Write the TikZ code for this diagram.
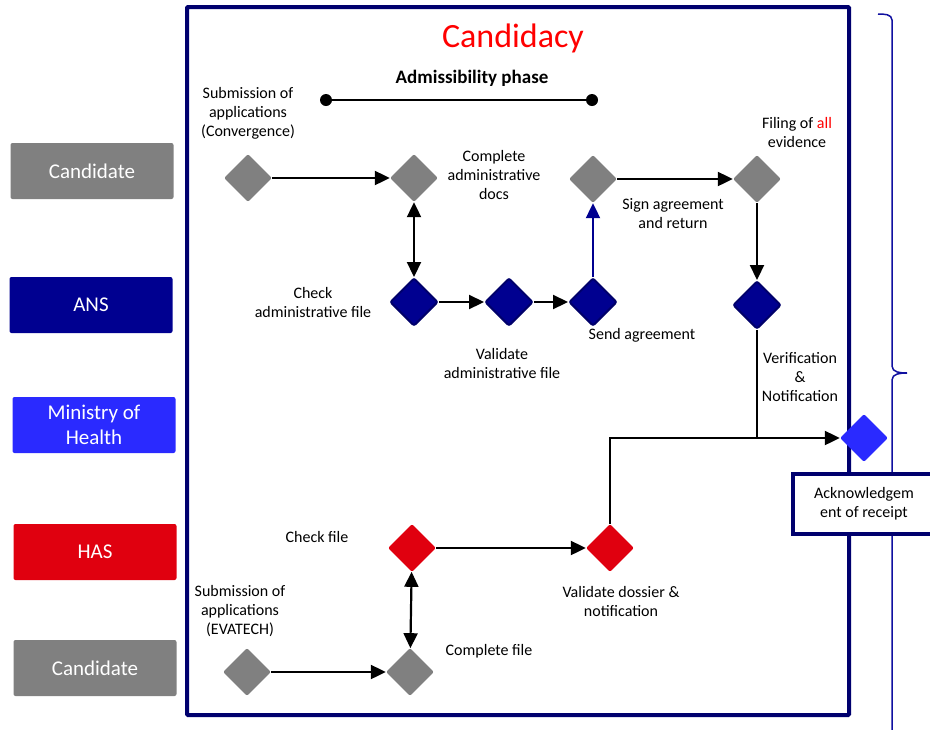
\documentclass[tikz,border=0pt]{standalone}
\usepackage{fontspec}
\setmainfont{Carlito}
\usetikzlibrary{arrows.meta, shapes.geometric, positioning}
\definecolor{candgray}{HTML}{808080}
\definecolor{ansblue}{HTML}{000090}
\definecolor{ansedge}{HTML}{00006A}
\definecolor{minblue}{HTML}{2A2AFF}
\definecolor{hasred}{HTML}{E0000F}
\definecolor{framenavy}{HTML}{00006E}
\definecolor{bracenavy}{HTML}{1010A0}
\tikzset{
	lanebox/.style={rectangle, rounded corners=2pt, minimum width=163pt, minimum height=56pt,
		inner sep=0pt, text=white, align=center, font=\fontsize{21}{25}\selectfont},
	dia/.style={diamond, minimum width=48pt, minimum height=48pt, inner sep=0pt, rounded corners=2pt},
	canddia/.style={dia, fill=candgray},
	ansdia/.style={dia, fill=ansblue, draw=ansedge, line width=2pt},
	mindia/.style={dia, fill=minblue},
	hasdia/.style={dia, fill=hasred},
	lbl/.style={align=center, inner sep=0pt, font=\fontsize{16}{19}\selectfont},
	flow/.style={line width=2.2pt, -{Triangle[length=15pt,width=14pt]}},
	twoway/.style={line width=2.2pt, {Triangle[length=15pt,width=14pt]}-{Triangle[length=15pt,width=14pt]}}
}
\begin{document}
\begin{tikzpicture}[x=1pt, y=-1pt]
	\useasboundingbox (0,0) rectangle (930,729);
	% lanes
	\node[lanebox, fill=candgray] (candtop) at (92,171) {Candidate};
	\node[lanebox, fill=ansblue] (ans) at (91,305) {ANS};
	\node[lanebox, fill=minblue] (ministry) at (94,425) {Ministry of\\Health};
	\node[lanebox, fill=hasred] (has) at (95,552) {HAS};
	\node[lanebox, fill=candgray] (candbot) at (95,668) {Candidate};

	% frame and brace
	\draw[framenavy, line width=4pt, rounded corners=1pt] (187,7) rectangle (849,715);
	\draw[bracenavy, line width=1.5pt] (878,14) to[out=0, in=90] (892,20) -- (892,366)
		to[out=-90, in=180] (907,373) to[out=180, in=90] (892,380) -- (892,735);

	% header
	\node[text=red, inner sep=0pt, font=\fontsize{34}{36}\selectfont] (title) at (513,38) {Candidacy};
	\node[inner sep=0pt, font=\fontsize{19}{22}\selectfont\bfseries] (phase) at (472,78) {Admissibility phase};
	\node[circle, fill=black, inner sep=0pt, minimum size=12pt] (phasestart) at (326,100) {};
	\node[circle, fill=black, inner sep=0pt, minimum size=12pt] (phaseend) at (592,100) {};
	\draw[line width=2pt] (phasestart) -- (phaseend);

	% convergence track
	\node[canddia] (subconv) at (248,178) {};
	\node[canddia] (compdocs) at (414,178) {};
	\node[canddia] (signagr) at (593,179) {};
	\node[canddia] (filing) at (757,179) {};
	\node[ansdia] (checkadm) at (414,302) {};
	\node[ansdia] (validadm) at (509,302) {};
	\node[ansdia] (sendagr) at (593,302) {};
	\node[ansdia] (verif) at (757,305) {};
	\node[mindia] (ackdia) at (864,438) {};

	% evatech track
	\node[hasdia] (checkfile) at (412,548) {};
	\node[hasdia] (validdos) at (610,548) {};
	\node[canddia] (subeva) at (247,672) {};
	\node[canddia] (compfile) at (410,672) {};

	% labels
	\node[lbl] (subconvlbl) at (248,113) {Submission of\\applications\\(Convergence)};
	\node[lbl] (compdocslbl) at (494,175) {Complete\\administrative\\docs};
	\node[lbl] (filinglbl) at (797,132) {Filing of {\color{red}all}\\evidence};
	\node[lbl] (signlbl) at (673,214) {Sign agreement\\and return};
	\node[lbl] (checkadmlbl) at (313,302) {Check\\administrative file};
	\node[lbl] (validadmlbl) at (502,363) {Validate\\administrative file};
	\node[lbl] (sendlbl) at (642,335) {Send agreement};
	\node[lbl] (veriflbl) at (800,377) {Verification\\\&\\Notification};
	\node[lbl] (checkfilelbl) at (317,537) {Check file};
	\node[lbl] (validdoslbl) at (621,601) {Validate dossier \&\\notification};
	\node[lbl] (subevalbl) at (240,611) {Submission of\\applications\\(EVATECH)};
	\node[lbl] (compfilelbl) at (489,651) {Complete file};

	% connectors
	\draw[flow]
	(subconv) edge (compdocs)
	(checkadm) edge (validadm)
	(validadm) edge (sendagr)
	(signagr) edge (filing)
	(filing) edge (verif)
	(checkfile) edge (validdos)
	(subeva) edge (compfile)
	;
	\draw[twoway] (compdocs) -- (checkadm);
	\draw[twoway] (compfile) -- (checkfile);
	\draw[flow, ansblue] (sendagr) -- (signagr);
	\draw[flow] (validdos) |- (ackdia);
	\draw[line width=2.2pt] (verif) -- (verif |- ackdia);

	% acknowledgement box
	\node[rectangle, fill=white, draw=framenavy, line width=3.5pt, minimum width=142pt, minimum height=60pt,
		align=center, font=\fontsize{16}{19}\selectfont] (ackbox) at (864,504) {Acknowledgem\\ent of receipt};
\end{tikzpicture}
\end{document}
